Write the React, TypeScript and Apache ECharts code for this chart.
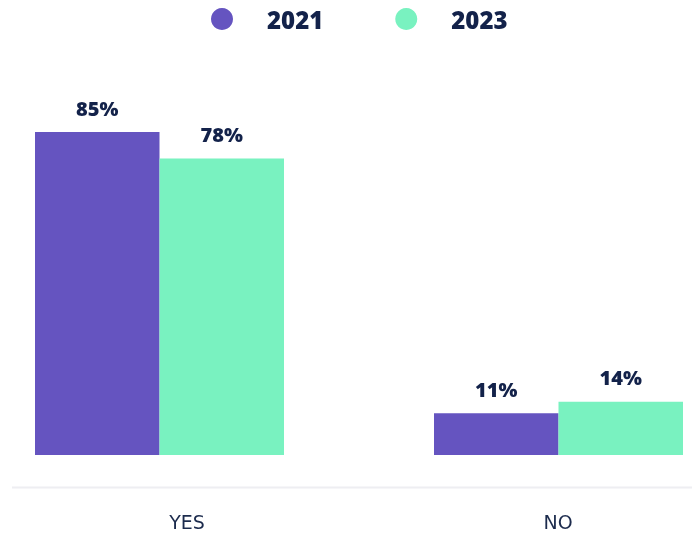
import React, { useEffect, useRef } from "react";
import * as echarts from "echarts";

const categories = ["YES", "NO"];
const seriesNames = ["2021", "2023"];
const values2021 = [85, 11];
const values2023 = [78, 14];
const colors = ["#6554C0", "#79F2C0"];

export default function App() {
  const ref = useRef<HTMLDivElement>(null);
  useEffect(() => {
    document.body.style.margin = "0";
    const chart = echarts.init(ref.current!, null, { renderer: "svg" });
    const labelStyle = {
      show: true,
      position: "top" as const,
      distance: 14,
      formatter: "{c}%",
      fontFamily: "Open Sans",
      fontWeight: 800 as any,
      fontSize: 20,
      color: "#13224A",
    };
    chart.setOption({
      animation: false,
      color: colors,
      legend: {
        data: seriesNames,
        left: 211,
        top: 7,
        padding: 0,
        icon: "circle",
        itemWidth: 22,
        itemHeight: 22,
        itemGap: 72,
        textStyle: {
          fontFamily: "Open Sans",
          fontWeight: 800,
          fontSize: 24,
          color: "#13224A",
          padding: [0, 0, 0, 29],
        },
      },
      graphic: [
        {
          type: "line",
          shape: { x1: 12, y1: 487.5, x2: 692, y2: 487.5 },
          style: { stroke: "#EEEEF2", lineWidth: 2 },
          silent: true,
        },
      ],
      grid: [
        { left: 159.5, right: 133.5, top: 75, bottom: 78 },
        { left: 187, right: 134, top: 460, bottom: 45 },
      ],
      xAxis: [
        {
          type: "category",
          gridIndex: 0,
          data: categories,
          boundaryGap: false,
          axisLine: { show: false },
          axisTick: { show: false },
          axisLabel: { show: false },
        },
        {
          type: "category",
          gridIndex: 1,
          data: categories,
          boundaryGap: false,
          axisLine: { show: false },
          axisTick: { show: false },
          axisLabel: {
            margin: 24,
            fontFamily: "DejaVu Sans",
            fontSize: 19,
            color: "#1C2B4D",
          },
        },
      ],
      yAxis: [
        { type: "value", gridIndex: 0, min: 0, max: 100, show: false },
        { type: "value", gridIndex: 1, show: false },
      ],
      series: [
        {
          name: seriesNames[0],
          type: "bar",
          data: values2021,
          barWidth: 124.5,
          barGap: "0%",
          clip: false,
          label: labelStyle,
        },
        {
          name: seriesNames[1],
          type: "bar",
          data: values2023,
          barWidth: 124.5,
          barGap: "0%",
          clip: false,
          label: labelStyle,
        },
      ],
    });
    return () => chart.dispose();
  }, []);
  return (
    <div
      ref={ref}
      style={{ position: "fixed", left: 0, top: 0, width: 692, height: 533 }}
    />
  );
}
